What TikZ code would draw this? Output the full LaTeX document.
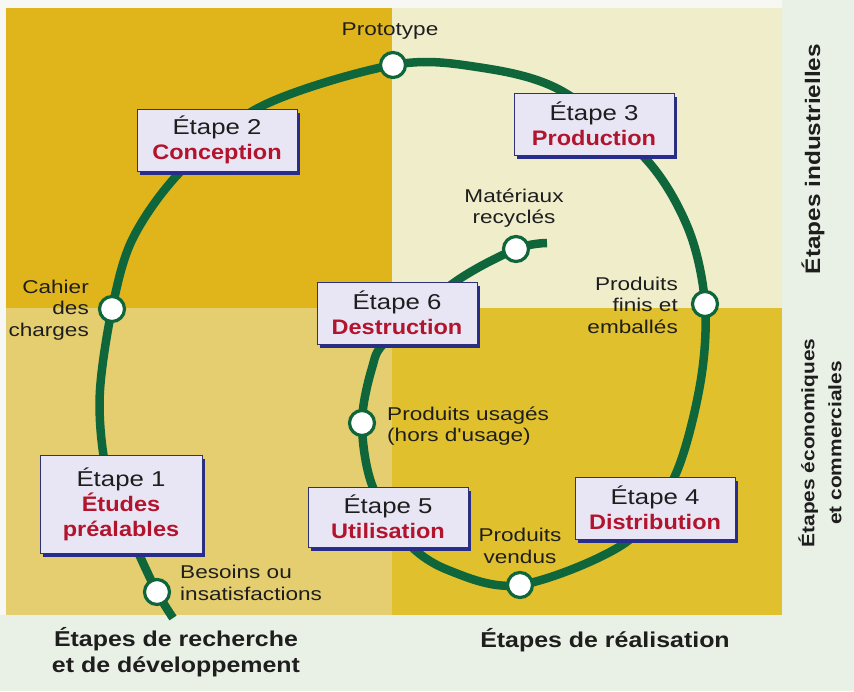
\documentclass[tikz,border=0pt]{standalone}
\usepackage{fontspec}
\setmainfont{Liberation Sans}
\newfontfamily\lblf{Liberation Sans}[FakeStretch=1.22]
\newfontfamily\boxf{Liberation Sans}[FakeStretch=1.2]
\newfontfamily\bldf{Liberation Sans}[FakeStretch=1.12]
\newfontfamily\bigbf{Liberation Sans}[FakeStretch=1.16]
\usetikzlibrary{shadows}
\definecolor{bgw}{RGB}{247,248,243}
\definecolor{bgl}{RGB}{233,241,230}
\definecolor{qtl}{RGB}{224,181,28}
\definecolor{qtr}{RGB}{239,237,202}
\definecolor{qbl}{RGB}{228,206,112}
\definecolor{qbr}{RGB}{225,192,45}
\definecolor{loopg}{RGB}{14,102,58}
\definecolor{boxfill}{RGB}{232,230,244}
\definecolor{boxline}{RGB}{45,50,120}
\definecolor{shadowb}{RGB}{40,45,140}
\definecolor{redt}{RGB}{178,20,45}
\definecolor{textc}{RGB}{30,30,30}
\newcommand{\redb}[1]{{\bldf\bfseries\color{redt}\fontsize{21}{25}\selectfont #1}}
\begin{document}
\begin{tikzpicture}[x=1pt,y=-1pt,
  stepbox/.style={draw=boxline, line width=0.9pt, fill=boxfill, minimum width=160pt,
    minimum height=62pt, align=center, inner sep=2pt, text=textc,
    font=\boxf\fontsize{21.5}{25}\selectfont,
    drop shadow={shadow xshift=3pt, shadow yshift=-3.5pt, fill=shadowb, opacity=1}},
  station/.style={circle, draw=loopg, line width=3.2pt, fill=white, minimum size=25pt, inner sep=0pt},
  lbl/.style={text=textc, font=\lblf\fontsize{18.5}{21.5}\selectfont, inner sep=0pt},
  big/.style={text=textc, font=\bigbf\bfseries\fontsize{21.5}{25.5}\selectfont, inner sep=0pt},
  side/.style={text=textc, font=\bigbf\bfseries\fontsize{18}{27}\selectfont, inner sep=0pt, rotate=90, align=center},
  loopline/.style={draw=loopg, line width=8.5pt}
]
\useasboundingbox (0,0) rectangle (854,691);
\fill[bgw] (0,0) rectangle (854,691);
\fill[bgl] (782,0) rectangle (854,691);
\fill[bgl] (0,615) rectangle (854,691);
\fill[qtl] (6,8) rectangle (392,308);
\fill[qtr] (392,8) rectangle (782,308);
\fill[qbl] (6,308) rectangle (392,615);
\fill[qbr] (392,308) rectangle (782,615);

% line ends
\coordinate (s0) at (173,618);
\coordinate (s9) at (547,243);
% stations (positions)
\coordinate (p1) at (157,592);
\coordinate (p2) at (112,309);
\coordinate (p3) at (393,65);
\coordinate (p4) at (705,304);
\coordinate (p5) at (520,585);
\coordinate (p6) at (362,423);
\coordinate (p7) at (516,249);

\draw[loopline] plot[smooth, tension=0.55] coordinates {
  (s0) (p1) (138,552) (116,502) (103,452) (100,390) (p2) (133,238) (182,170)
  (262,106) (p3) (477,67) (560,90) (645,158) (688,228) (p4) (700,385) (674,478)
  (625,543) (p5) (448,570) (405,540) (372,485) (p6) (372,368) (387,340) (455,282) (p7) (s9)};

\node[station] (c1) at (p1) {};
\node[station] (c2) at (p2) {};
\node[station] (c3) at (p3) {};
\node[station] (c4) at (p4) {};
\node[station] (c5) at (p5) {};
\node[station] (c6) at (p6) {};
\node[station] (c7) at (p7) {};

% boxes
\node[stepbox] (e1) at (121,504) [minimum height=98pt, minimum width=162pt]
  {Étape 1\\\redb{Études}\\\redb{préalables}};
\node[stepbox] (e2) at (217,140) {Étape 2\\\redb{Conception}};
\node[stepbox] (e3) at (594,124) {Étape 3\\\redb{Production}};
\node[stepbox] (e4) at (655,508) {Étape 4\\\redb{Distribution}};
\node[stepbox] (e5) at (388,517) [minimum height=60pt] {Étape 5\\\redb{Utilisation}};
\node[stepbox] (e6) at (397,313) {Étape 6\\\redb{Destruction}};

% labels
\node[lbl] (lproto) at (390,31) {Prototype};
\node[lbl, anchor=east, align=right] (lcahier) at (89,310) {Cahier\\des\\charges};
\node[lbl, align=center] (lmat) at (514,208) {Matériaux\\recyclés};
\node[lbl, anchor=east, align=right] (lfinis) at (678,305) {Produits\\finis et\\emballés};
\node[lbl, anchor=west, align=left] (lusag) at (387,426) {Produits usagés\\(hors d'usage)};
\node[lbl, align=center] (lvend) at (520,546) {Produits\\vendus};
\node[lbl, anchor=west, align=left] (lbes) at (180,583) {Besoins ou\\insatisfactions};

\node[big, align=center] (brd) at (176,652) {Étapes de recherche\\et de développement};
\node[big] (breal) at (605,640) {Étapes de réalisation};
\node[side, font=\bigbf\bfseries\fontsize{21}{25}\selectfont] (sind) at (813,159) {Étapes industrielles};
\node[side] (seco) at (820,443) {Étapes économiques\\et commerciales};
\end{tikzpicture}
\end{document}
